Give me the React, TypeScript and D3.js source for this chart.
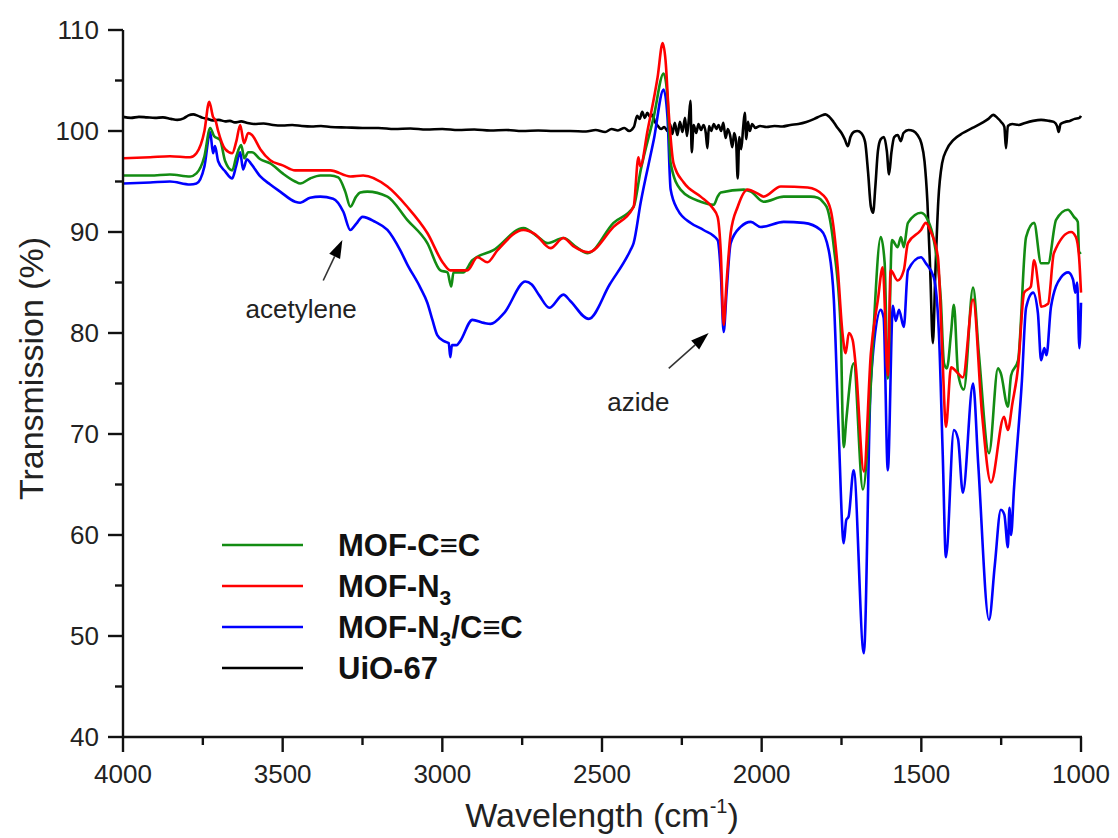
import React from 'react';
import * as d3 from 'd3';

type Pt = [number, number];

// wavenumber (cm-1), transmission (%)
const mofCC: Pt[] = [
  [4000, 95.6], [3915, 95.6], [3853, 95.7], [3790, 95.5], [3770, 95.8], [3745, 97.5], [3727, 100.3],
  [3715, 99.5], [3696, 99.1], [3680, 97.0], [3658, 96.1], [3645, 97.5], [3630, 98.6], [3620, 97.3],
  [3608, 97.9], [3596, 97.9], [3570, 97.2], [3539, 96.8], [3500, 95.8], [3461, 95.0], [3445, 94.8],
  [3414, 95.3], [3382, 95.6], [3351, 95.6], [3326, 95.4], [3304, 94.0], [3288, 92.5], [3270, 93.5],
  [3257, 93.9], [3235, 94.0], [3172, 93.5], [3110, 91.2], [3047, 88.9], [3006, 86.2], [2984, 86.0],
  [2972, 84.6], [2965, 86.0], [2934, 86.0], [2906, 87.2], [2840, 88.2], [2746, 90.4], [2700, 89.5],
  [2671, 88.9], [2621, 89.4], [2580, 88.5], [2545, 87.9], [2464, 90.9], [2401, 92.5], [2379, 96.1],
  [2338, 101.4], [2307, 105.7], [2295, 103.4], [2285, 96.8], [2254, 94.2], [2191, 93.0], [2150, 92.7],
  [2138, 93.5], [2128, 93.9], [2056, 94.2], [2034, 94.0], [1994, 93.0], [1931, 93.5], [1846, 93.5],
  [1824, 93.4], [1806, 92.9], [1793, 92.2], [1774, 88.5], [1752, 80.0], [1747, 72.0], [1743, 68.7],
  [1735, 71.4], [1712, 77.0], [1683, 64.5], [1658, 75.0], [1650, 80.0], [1627, 89.5], [1615, 87.0],
  [1605, 75.5], [1592, 89.2], [1574, 88.5], [1564, 89.5], [1555, 88.5], [1542, 90.9], [1501, 91.9],
  [1480, 91.2], [1461, 89.2], [1439, 83.3], [1429, 77.0], [1420, 76.5], [1407, 80.0], [1398, 82.8],
  [1385, 76.0], [1367, 74.4], [1338, 84.5], [1320, 78.0], [1288, 68.1], [1260, 76.5], [1251, 76.0],
  [1229, 72.7], [1219, 75.8], [1197, 77.3], [1172, 89.5], [1147, 90.9], [1125, 86.9], [1103, 86.9],
  [1078, 91.2], [1041, 92.2], [1022, 91.5], [1010, 91.0], [1006, 87.9], [1000, 88.0],
];

const mofN3: Pt[] = [
  [4000, 97.3], [3915, 97.4], [3853, 97.5], [3790, 97.4], [3770, 97.8], [3745, 100.0], [3730, 102.9],
  [3718, 101.4], [3710, 101.0], [3702, 100.0], [3680, 98.2], [3658, 97.8], [3645, 99.0], [3633, 100.6],
  [3621, 98.8], [3608, 99.8], [3596, 99.6], [3570, 98.2], [3539, 97.1], [3500, 96.6], [3461, 96.1],
  [3400, 96.1], [3351, 96.1], [3288, 95.5], [3248, 95.6], [3172, 94.5], [3110, 92.5], [3047, 89.9],
  [2997, 86.9], [2975, 86.2], [2922, 86.2], [2890, 87.5], [2859, 87.0], [2827, 88.2], [2746, 90.2],
  [2710, 89.8], [2661, 88.4], [2621, 89.4], [2590, 88.6], [2542, 88.0], [2464, 90.5], [2401, 92.5],
  [2386, 97.4], [2380, 96.5], [2357, 100.1], [2326, 105.3], [2310, 108.7], [2301, 107.0], [2291, 101.8],
  [2276, 96.8], [2244, 94.9], [2191, 93.5], [2154, 92.4], [2138, 91.5], [2128, 88.0], [2119, 80.8],
  [2110, 85.0], [2097, 89.9], [2075, 92.5], [2044, 94.2], [2012, 93.8], [1994, 93.5], [1940, 94.5],
  [1856, 94.4], [1806, 93.6], [1784, 92.2], [1762, 86.5], [1747, 80.0], [1737, 78.0], [1727, 80.0],
  [1715, 79.3], [1705, 76.6], [1680, 66.3], [1658, 78.0], [1636, 83.3], [1621, 86.5], [1605, 75.8],
  [1596, 86.2], [1574, 85.2], [1555, 86.2], [1542, 88.9], [1501, 90.2], [1486, 90.9], [1470, 90.0],
  [1448, 87.5], [1433, 77.0], [1423, 70.7], [1407, 76.6], [1385, 76.0], [1370, 75.6], [1338, 83.3],
  [1310, 72.0], [1282, 65.2], [1241, 71.7], [1229, 70.4], [1215, 73.0], [1197, 76.6], [1178, 84.0],
  [1157, 84.6], [1147, 87.2], [1131, 84.0], [1125, 82.6], [1103, 82.9], [1085, 87.9], [1031, 90.0],
  [1016, 89.5], [1006, 87.5], [1000, 84.0],
];

const mofN3CC: Pt[] = [
  [4000, 94.8], [3915, 94.9], [3853, 95.0], [3790, 94.7], [3770, 94.8], [3745, 96.5], [3727, 99.9],
  [3718, 97.8], [3712, 98.5], [3702, 97.0], [3680, 96.0], [3658, 95.3], [3646, 96.5], [3633, 97.9],
  [3624, 96.2], [3612, 97.2], [3600, 96.8], [3570, 95.5], [3539, 94.7], [3508, 94.0], [3461, 93.0],
  [3445, 92.9], [3414, 93.4], [3382, 93.5], [3342, 93.3], [3310, 92.0], [3288, 90.2], [3270, 90.8],
  [3250, 91.5], [3210, 91.0], [3172, 90.2], [3132, 88.2], [3110, 86.8], [3069, 84.5], [3047, 83.0],
  [3031, 81.3], [3016, 79.8], [2995, 79.2], [2980, 79.0], [2975, 77.6], [2970, 78.8], [2955, 78.8],
  [2944, 79.2], [2906, 81.3], [2870, 81.0], [2849, 80.9], [2806, 82.0], [2740, 85.1], [2720, 84.8],
  [2696, 83.7], [2665, 82.5], [2621, 83.8], [2600, 83.2], [2542, 81.4], [2476, 84.8], [2411, 88.2],
  [2401, 88.9], [2379, 92.9], [2338, 99.1], [2307, 104.1], [2295, 101.4], [2285, 94.2], [2263, 92.2],
  [2222, 90.9], [2182, 90.2], [2138, 89.2], [2128, 86.0], [2119, 80.1], [2110, 84.0], [2097, 88.9],
  [2066, 90.5], [2034, 91.0], [2003, 90.5], [1931, 91.0], [1868, 90.9], [1815, 90.2], [1790, 88.2],
  [1774, 83.3], [1759, 70.4], [1743, 59.2], [1735, 61.5], [1728, 61.8], [1712, 66.4], [1680, 48.3],
  [1658, 75.3], [1627, 82.3], [1618, 81.5], [1605, 66.4], [1589, 82.7], [1580, 81.2], [1570, 82.3],
  [1555, 80.6], [1542, 86.2], [1501, 87.5], [1486, 86.9], [1461, 85.5], [1445, 80.0], [1433, 68.0],
  [1423, 57.8], [1398, 70.4], [1385, 69.5], [1370, 64.2], [1338, 75.0], [1322, 67.1], [1288, 51.6],
  [1270, 57.0], [1251, 62.5], [1240, 62.0], [1229, 58.8], [1224, 62.7], [1219, 60.0], [1210, 64.5],
  [1185, 75.3], [1172, 82.5], [1150, 84.0], [1135, 82.0], [1125, 77.3], [1115, 78.5], [1108, 77.8],
  [1094, 82.6], [1063, 85.5], [1040, 86.0], [1025, 85.3], [1018, 84.0], [1012, 85.0], [1005, 78.5],
  [1000, 83.0],
];

const uio67: Pt[] = [
  [4000, 101.4], [3975, 101.3], [3950, 101.4], [3925, 101.35], [3900, 101.3], [3875, 101.35], [3850, 101.2],
  [3830, 101.1], [3810, 101.25], [3795, 101.55], [3780, 101.65], [3765, 101.5], [3750, 101.3], [3735, 101.2],
  [3720, 101.05], [3700, 101.1], [3680, 100.95], [3665, 101.0], [3650, 100.85], [3630, 100.95], [3610, 100.8],
  [3590, 100.7], [3560, 100.75], [3530, 100.6], [3500, 100.55], [3470, 100.6], [3440, 100.5], [3410, 100.45],
  [3380, 100.5], [3350, 100.4], [3300, 100.35], [3250, 100.3], [3200, 100.3], [3150, 100.2], [3100, 100.25],
  [3050, 100.15], [3000, 100.2], [2950, 100.1], [2900, 100.15], [2850, 100.05], [2800, 100.1], [2750, 100.0],
  [2700, 100.05], [2650, 100.0], [2600, 100.0], [2550, 99.95], [2520, 100.1], [2490, 99.9], [2470, 100.2],
  [2450, 100.05], [2430, 100.3], [2415, 100.0], [2400, 100.4], [2390, 101.5], [2382, 101.2], [2374, 101.9],
  [2366, 101.3], [2358, 101.8], [2350, 101.4], [2342, 101.6], [2334, 100.9], [2325, 100.5], [2315, 100.2],
  [2305, 100.4], [2295, 100.0], [2287, 100.7], [2280, 99.7], [2272, 100.8], [2264, 99.6], [2256, 100.9],
  [2248, 99.9], [2240, 101.3], [2234, 99.5], [2228, 101.2], [2223, 103.0], [2219, 97.9], [2213, 100.6],
  [2205, 99.8], [2198, 100.7], [2190, 100.1], [2182, 100.6], [2175, 99.8], [2170, 98.3], [2165, 100.5],
  [2158, 100.0], [2150, 100.7], [2142, 100.2], [2135, 100.6], [2127, 100.0], [2120, 100.8], [2113, 99.3],
  [2106, 100.2], [2099, 99.6], [2092, 98.4], [2086, 99.8], [2080, 98.9], [2075, 95.3], [2070, 99.4],
  [2064, 98.2], [2058, 100.3], [2053, 101.8], [2048, 99.2], [2043, 100.9], [2037, 100.0], [2030, 100.7],
  [2020, 100.3], [2005, 100.5], [1985, 100.4], [1960, 100.5], [1935, 100.45], [1910, 100.6], [1885, 100.7],
  [1860, 100.9], [1835, 101.2], [1815, 101.5], [1800, 101.65], [1788, 101.4], [1775, 100.9], [1762, 100.3],
  [1750, 99.8], [1740, 99.2], [1730, 98.5], [1722, 99.4], [1712, 99.9], [1700, 100.0], [1688, 99.8],
  [1676, 98.9], [1667, 96.0], [1658, 92.5], [1651, 91.9], [1644, 94.5], [1636, 98.0], [1627, 99.2],
  [1617, 99.4], [1608, 98.0], [1601, 95.7], [1594, 97.8], [1585, 99.4], [1574, 99.6], [1564, 99.0],
  [1556, 99.8], [1540, 100.1], [1525, 100.0], [1512, 99.6], [1500, 98.8], [1490, 97.0], [1481, 93.0],
  [1472, 86.0], [1464, 79.0], [1456, 86.0], [1447, 93.0], [1435, 96.8], [1420, 98.2], [1400, 99.1],
  [1370, 99.8], [1340, 100.3], [1310, 100.8], [1290, 101.2], [1275, 101.6], [1262, 101.3], [1250, 100.9],
  [1240, 100.4], [1235, 98.3], [1229, 100.5], [1215, 100.7], [1195, 100.6], [1175, 100.8], [1150, 101.0],
  [1125, 101.1], [1100, 101.0], [1085, 100.9], [1075, 100.5], [1070, 99.9], [1064, 100.7], [1050, 100.9],
  [1035, 101.0], [1020, 101.2], [1005, 101.3], [1000, 101.5],
];

const xMajor = [4000, 3500, 3000, 2500, 2000, 1500, 1000];
const xMinor = [3750, 3250, 2750, 2250, 1750, 1250];
const yMajor = [40, 50, 60, 70, 80, 90, 100, 110];
const yMinor = [45, 55, 65, 75, 85, 95, 105];

const series = [
  { name: 'UiO-67', data: uio67, color: '#000000' },
  { name: 'MOF-N3/CC', data: mofN3CC, color: '#0000ff' },
  { name: 'MOF-CC', data: mofCC, color: '#138c13' },
  { name: 'MOF-N3', data: mofN3, color: '#ff0000' },
];

const FONT = '"Liberation Sans", Arial, Helvetica, sans-serif';

function Arrow({ x1, y1, x2, y2 }: { x1: number; y1: number; x2: number; y2: number }) {
  const ang = Math.atan2(y2 - y1, x2 - x1);
  const len = 18, half = 6;
  const bx = x2 - len * Math.cos(ang), by = y2 - len * Math.sin(ang);
  const px = -Math.sin(ang) * half, py = Math.cos(ang) * half;
  return (
    <g>
      <line x1={x1} y1={y1} x2={bx} y2={by} stroke="#333" strokeWidth={1.6} />
      <polygon points={`${x2},${y2} ${bx + px},${by + py} ${bx - px},${by - py}`} fill="#000" />
    </g>
  );
}

export default function App() {
  const W = 1118, H = 838;
  const x = d3.scaleLinear().domain([4000, 1000]).range([123, 1081]);
  const y = d3.scaleLinear().domain([40, 110]).range([737, 30]);
  const line = d3.line<Pt>().x(d => x(d[0])).y(d => y(d[1])).curve(d3.curveMonotoneX);

  const legend = [
    { key: 'cc', color: '#138c13' },
    { key: 'n3', color: '#ff0000' },
    { key: 'n3cc', color: '#0000ff' },
    { key: 'uio', color: '#000000' },
  ];
  const legendY = (i: number) => 545 + i * 41;

  return (
    <svg width={W} height={H} style={{ position: 'absolute', left: 0, top: 0, background: '#fff' }}
      fontFamily={FONT}>
      <rect width={W} height={H} fill="#fff" />
      {series.map(s => (
        <path key={s.name} d={line(s.data) || ''} fill="none" stroke={s.color} strokeWidth={2.6}
          strokeLinejoin="round" />
      ))}

      {/* axes */}
      <g stroke="#111" strokeWidth={2.4} fill="none">
        <line x1={x(4000)} y1={y(110)} x2={x(4000)} y2={y(40) + 1} />
        <line x1={x(4000) - 1} y1={y(40)} x2={x(1000) + 1} y2={y(40)} />
        {yMajor.map(v => <line key={'ym' + v} x1={x(4000) - 15} x2={x(4000)} y1={y(v)} y2={y(v)} />)}
        {yMinor.map(v => <line key={'yn' + v} x1={x(4000) - 8} x2={x(4000)} y1={y(v)} y2={y(v)} />)}
        {xMajor.map(v => <line key={'xm' + v} x1={x(v)} x2={x(v)} y1={y(40)} y2={y(40) + 15} />)}
        {xMinor.map(v => <line key={'xn' + v} x1={x(v)} x2={x(v)} y1={y(40)} y2={y(40) + 8} />)}
      </g>
      <g fontSize={26} fill="#222">
        {yMajor.map(v => (
          <text key={'yl' + v} x={x(4000) - 24} y={y(v)} dy="0.35em" textAnchor="end">{v}</text>
        ))}
        {xMajor.map(v => (
          <text key={'xl' + v} x={x(v)} y={y(40) + 46} textAnchor="middle">{v}</text>
        ))}
      </g>
      <text transform={`translate(43, ${y(75) - 15}) rotate(-90)`} textAnchor="middle" fontSize={34} fill="#222">
        Transmission (%)
      </text>
      <text x={602} y={827} textAnchor="middle" fontSize={34} fill="#222">
        Wavelength (cm<tspan dy={-14} fontSize={20}>-1</tspan><tspan dy={14}>)</tspan>
      </text>

      {/* annotations */}
      <Arrow x1={x(3373)} y1={y(85.2)} x2={x(3313)} y2={y(89.2)} />
      <text x={x(3442)} y={y(81.5)} textAnchor="middle" fontSize={26} fill="#222">acetylene</text>
      <Arrow x1={x(2291)} y1={y(76.5)} x2={x(2166)} y2={y(80.0)} />
      <text x={x(2386)} y={y(72.3)} textAnchor="middle" fontSize={26} fill="#222">azide</text>

      {/* legend */}
      <g fontSize={31} fontWeight="bold" fill="#111">
        {legend.map((l, i) => (
          <line key={l.key} x1={222} x2={303} y1={legendY(i)} y2={legendY(i)} stroke={l.color} strokeWidth={2.6} />
        ))}
        <text x={338} y={legendY(0) + 11}>MOF-C≡C</text>
        <text x={338} y={legendY(1) + 11}>MOF-N<tspan dy={8} fontSize={21}>3</tspan></text>
        <text x={338} y={legendY(2) + 11}>MOF-N<tspan dy={8} fontSize={21}>3</tspan><tspan dy={-8}>/C≡C</tspan></text>
        <text x={338} y={legendY(3) + 11}>UiO-67</text>
      </g>
    </svg>
  );
}
